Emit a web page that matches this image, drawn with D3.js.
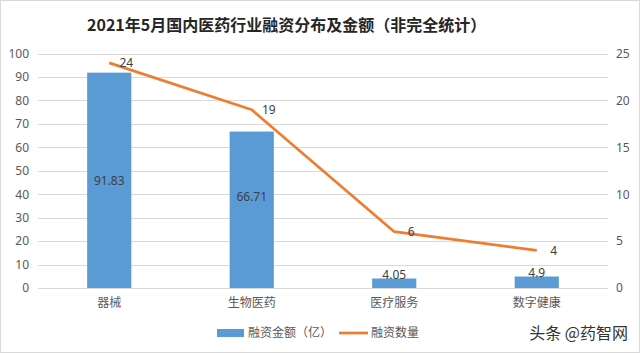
<!DOCTYPE html>
<html>
<head>
<meta charset="utf-8">
<script src="https://cdn.jsdelivr.net/npm/d3@7"></script>
<style>
  body { margin: 0; background: #fff; }
  text { font-family: "Microsoft YaHei", "Noto Sans CJK SC", sans-serif; }
</style>
</head>
<body>
<svg id="chart" width="640" height="353"></svg>
<script>
// data
const categories = ["器械", "生物医药", "医疗服务", "数字健康"];
const amounts = [91.83, 66.71, 4.05, 4.9];   // 融资金额（亿）
const counts = [24, 19, 6, 4];               // 融资数量
const leftTicks = [0, 10, 20, 30, 40, 50, 60, 70, 80, 90, 100];
const rightTicks = [0, 5, 10, 15, 20, 25];

const svg = d3.select("#chart");
const W = 640, H = 353;
const plot = { left: 38, right: 608, top: 53.5, bottom: 288 };

// frame
svg.append("rect")
  .attr("x", 0.5).attr("y", 0.5)
  .attr("width", W - 1).attr("height", H - 1)
  .attr("fill", "#fff").attr("stroke", "#d9d9d9");

// scales
let x = d3.scaleBand()
  .domain(categories)
  .range([plot.left, plot.right])
  .paddingInner(0.69)
  .paddingOuter(0.345);

let yL = d3.scaleLinear().domain([0, 100]).range([plot.bottom, plot.top]);
let yR = d3.scaleLinear().domain([0, 25]).range([plot.bottom, plot.top]);

// gridlines
svg.append("g").selectAll("line").data(leftTicks).enter().append("line")
  .attr("x1", plot.left).attr("x2", plot.right)
  .attr("y1", d => Math.round(yL(d)) + 0.5).attr("y2", d => Math.round(yL(d)) + 0.5)
  .attr("stroke", "#d9d9d9").attr("stroke-width", 1);

// left axis labels
let axL = svg.append("g")
  .attr("transform", `translate(${plot.left},0)`)
  .call(d3.axisLeft(yL).tickValues(leftTicks).tickSize(0).tickPadding(9));
axL.select(".domain").remove();
axL.selectAll("text").attr("fill", "#595959").style("font-size", "12px")
  .style("font-family", "'Noto Sans', sans-serif");

// right axis labels
let axR = svg.append("g")
  .attr("transform", `translate(${plot.right},0)`)
  .call(d3.axisRight(yR).tickValues(rightTicks).tickSize(0).tickPadding(8));
axR.select(".domain").remove();
axR.selectAll("text").attr("fill", "#595959").style("font-size", "12px")
  .style("font-family", "'Noto Sans', sans-serif");

// category axis
let axB = svg.append("g")
  .attr("transform", `translate(0,${plot.bottom})`)
  .call(d3.axisBottom(x).tickSize(0).tickPadding(10));
axB.select(".domain").remove();
axB.selectAll("text").attr("fill", "#595959").style("font-size", "12px")
  .style("font-family", "'Noto Sans CJK SC', sans-serif");

// bars
svg.append("g").selectAll("rect").data(amounts).enter().append("rect")
  .attr("x", (d, i) => x(categories[i]))
  .attr("y", d => yL(d))
  .attr("width", x.bandwidth())
  .attr("height", d => plot.bottom - yL(d))
  .attr("fill", "#5b9bd5");

// bar labels (roughly centred in the bar, small bars push up a bit)
svg.append("g").selectAll("text").data(amounts).enter().append("text")
  .attr("x", (d, i) => x(categories[i]) + x.bandwidth() / 2)
  .attr("y", d => d > 80 ? (yL(d) + plot.bottom) / 2 : d > 20 ? yL(d) + 65 : yL(d) - 4)
  .attr("dy", "0.35em")
  .attr("text-anchor", "middle")
  .attr("fill", "#404040")
  .style("font-size", "12px")
  .style("font-family", "'Noto Sans', sans-serif")
  .text(d => d);

// count line
let line = d3.line()
  .x((d, i) => x(categories[i]) + x.bandwidth() / 2)
  .y(d => yR(d));

svg.append("path")
  .datum(counts)
  .attr("d", line)
  .attr("fill", "none")
  .attr("stroke", "#ed7d31")
  .attr("stroke-width", 2.75)
  .attr("stroke-linejoin", "round");

svg.append("g").selectAll("text").data(counts).enter().append("text")
  .attr("x", (d, i) => x(categories[i]) + x.bandwidth() / 2 + 17)
  .attr("y", d => yR(d))
  .attr("dy", "0.35em")
  .attr("text-anchor", "middle")
  .attr("fill", "#404040")
  .style("font-size", "12px")
  .style("font-family", "'Noto Sans', sans-serif")
  .text(d => d);

// title
svg.append("text")
  .attr("x", 87).attr("y", 31)
  .attr("fill", "#262626")
  .style("font-size", "16px")
  .style("font-weight", "bold")
  .style("font-family", "'Noto Sans CJK SC', sans-serif")
  .text("2021年5月国内医药行业融资分布及金额（非完全统计）");

// legend
let legend = svg.append("g");
legend.append("rect")
  .attr("x", 217).attr("y", 329).attr("width", 27).attr("height", 8)
  .attr("fill", "#5b9bd5");
legend.append("text")
  .attr("x", 248).attr("y", 333).attr("dy", "0.35em")
  .attr("fill", "#595959").style("font-size", "12px")
  .style("font-family", "'Noto Sans CJK SC', sans-serif")
  .text("融资金额（亿）");
legend.append("line")
  .attr("x1", 339).attr("x2", 368).attr("y1", 333).attr("y2", 333)
  .attr("stroke", "#ed7d31").attr("stroke-width", 2.75);
legend.append("text")
  .attr("x", 371).attr("y", 333).attr("dy", "0.35em")
  .attr("fill", "#595959").style("font-size", "12px")
  .style("font-family", "'Noto Sans CJK SC', sans-serif")
  .text("融资数量");

// watermark
svg.append("text")
  .attr("x", 628).attr("y", 333).attr("dy", "0.35em")
  .attr("text-anchor", "end")
  .attr("fill", "#333")
  .style("font-size", "16px")
  .style("font-family", "'Noto Sans CJK SC', sans-serif")
  .text("头条 @药智网");
</script>
</body>
</html>
